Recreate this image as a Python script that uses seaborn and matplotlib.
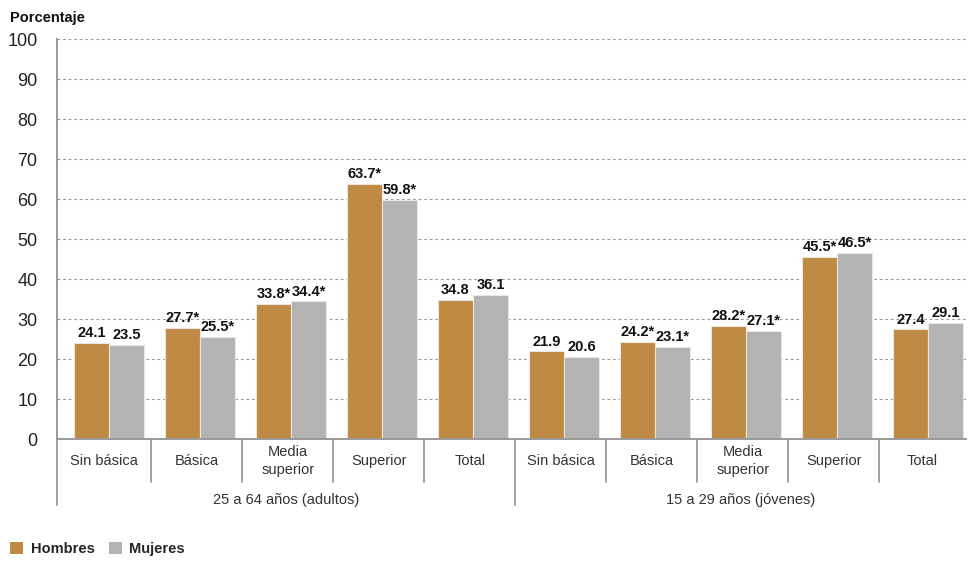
import matplotlib
matplotlib.use("Agg")
import matplotlib.pyplot as plt
import seaborn as sns
import pandas as pd
from matplotlib.patches import Rectangle

categories = ["Sin básica", "Básica", "Media\nsuperior", "Superior", "Total"]
groups = ["25 a 64 años (adultos)", "15 a 29 años (jóvenes)"]
hombres = [24.1, 27.7, 33.8, 63.7, 34.8, 21.9, 24.2, 28.2, 45.5, 27.4]
mujeres = [23.5, 25.5, 34.4, 59.8, 36.1, 20.6, 23.1, 27.1, 46.5, 29.1]
hombres_lbl = ["24.1", "27.7*", "33.8*", "63.7*", "34.8", "21.9", "24.2*", "28.2*", "45.5*", "27.4"]
mujeres_lbl = ["23.5", "25.5*", "34.4*", "59.8*", "36.1", "20.6", "23.1*", "27.1*", "46.5*", "29.1"]
series = ["Hombres", "Mujeres"]
colors = ["#BF8A43", "#B3B3B3"]

sns.set_theme(style="white")
plt.rcParams["font.family"] = ["Liberation Sans", "DejaVu Sans"]

keys = [f"{g}|{c}" for g in groups for c in categories]
rows = []
for k, h, m in zip(keys, hombres, mujeres):
    rows.append({"pos": k, "Sexo": "Hombres", "valor": h})
    rows.append({"pos": k, "Sexo": "Mujeres", "valor": m})
df = pd.DataFrame(rows)

fig = plt.figure(figsize=(9.69, 5.62), dpi=100)
ax = fig.add_axes([57 / 969, 1 - 439 / 562, (966 - 57) / 969, 400 / 562])

sns.barplot(data=df, x="pos", y="valor", hue="Sexo", order=keys, hue_order=series,
            palette=colors, width=0.77, ax=ax, legend=False, saturation=1,
            edgecolor="#EDE6DC", linewidth=0.8)

# bars sit slightly right of their slot
x_left, x_right = -0.571, 9.418
ax.set_xlim(x_left, x_right)
ax.set_ylim(0, 100)
ax.set_yticks(range(0, 101, 10))
ax.yaxis.grid(True, linestyle=(0, (2.5, 2.5)), color="#9A9A9A", linewidth=0.8)
ax.set_axisbelow(True)
ax.tick_params(axis="y", length=9, width=1.2, color="#9A9A9A", labelsize=13, pad=5, labelcolor="#222222")
ax.tick_params(axis="x", length=0)
ax.set_xticks([])
ax.set_xlabel("")
ax.set_ylabel("")
for s in ["top", "right"]:
    ax.spines[s].set_visible(False)
for s in ["left", "bottom"]:
    ax.spines[s].set_color("#9A9A9A")
    ax.spines[s].set_linewidth(1.4)

# value labels
for cont, labels in zip(ax.containers, [hombres_lbl, mujeres_lbl]):
    for bar, lab in zip(cont.patches, labels):
        x = bar.get_x() + bar.get_width() / 2
        y = bar.get_height()
        ax.annotate(lab, (x, y), xytext=(0, 2), textcoords="offset points",
                    ha="center", va="bottom", fontsize=10.5, fontweight="bold",
                    color="#111111")

# multi-level axis
trans = ax.get_xaxis_transform()
def px_to_axes_y(py):
    return (439 - py) / 400.0

seps = [k - 0.535 for k in range(1, len(keys))]
bounds = [x_left] + seps + [x_right]
for i, k in enumerate(keys):
    cat = k.split("|")[1]
    xc = (bounds[i] + bounds[i + 1]) / 2
    ax.text(xc, px_to_axes_y(461), cat, transform=trans, ha="center", va="center",
            fontsize=10.5, color="#333333", linespacing=1.4)
for j, xs in enumerate(seps):
    if j == 4:
        continue
    ax.plot([xs, xs], [0, px_to_axes_y(482)], transform=trans,
            color="#9A9A9A", lw=1.3, clip_on=False)
for xg in [x_left, seps[4]]:
    ax.plot([xg, xg], [0, px_to_axes_y(505)], transform=trans,
            color="#9A9A9A", lw=1.3, clip_on=False)
gb = [x_left, seps[4], x_right]
for gi, g in enumerate(groups):
    ax.text((gb[gi] + gb[gi + 1]) / 2, px_to_axes_y(500), g, transform=trans, ha="center",
            va="center", fontsize=10.5, color="#333333")

fig.text(10 / 969, 1 - 18 / 562, "Porcentaje", ha="left", va="center",
         fontsize=10.5, fontweight="bold", color="#111111")

# legend
handles = [Rectangle((0, 0), 1, 1, facecolor=c, edgecolor="none") for c in colors]
fig.legend(handles, series, loc="center left", bbox_to_anchor=(0.0, 1 - 549 / 562),
           ncol=2, frameon=False, handlelength=0.9, handleheight=0.9,
           handletextpad=0.5, columnspacing=1.0, borderaxespad=0.3,
           prop={"weight": "bold", "size": 10.5})

fig.savefig("out.png", dpi=100)
